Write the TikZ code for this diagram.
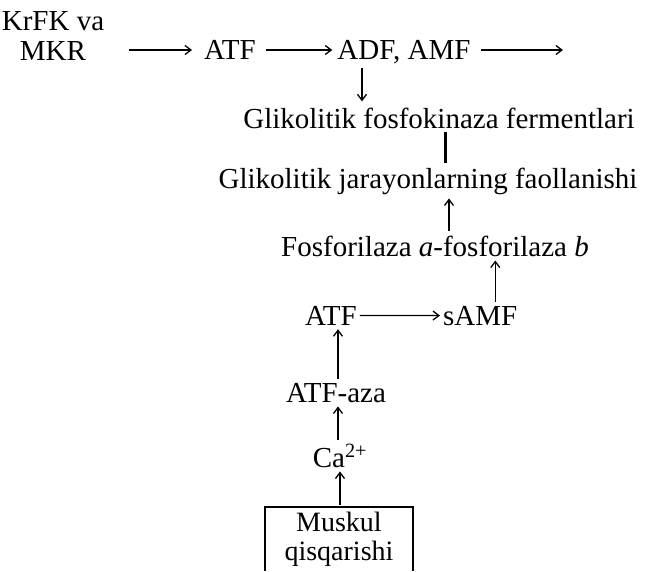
\documentclass[tikz,border=0pt]{standalone}
\usepackage{fontspec}
\setmainfont{Liberation Serif}
\usetikzlibrary{arrows.meta,positioning,calc}

\begin{document}
\begin{tikzpicture}[
  x=1pt, y=-1pt,
  every node/.style={font=\fontsize{29}{30}\selectfont, inner sep=0pt},
  lbl/.style={anchor=base},
  arr/.style={-{Straight Barb[length=6pt,width=9pt]}, line width=1.3pt},
  bar/.style={line width=3pt},
  boxline/.style={line width=2.5pt},
]
\useasboundingbox (0,0) rectangle (646,571);

% Top row
\node[align=center] (krfk) at (53,36) {KrFK va\\MKR};
\node[lbl] (atf) at (230,59) {ATF};
\node[lbl] (adf) at (404,59) {ADF, AMF};
\coordinate (out) at (563,50);

% Middle
\node[lbl] (glik) at (439,128) {Glikolitik fosfokinaza fermentlari};
\node[lbl] (faol) at (428,188) {Glikolitik jarayonlarning faollanishi};
\node[lbl] (fosfo) at (435,256) {Fosforilaza \textit{a}-fosforilaza \textit{b}};

% Lower column
\node[lbl] (atfb) at (331,325) {ATF};
\node[lbl, anchor=base west] (samf) at (443,325) {sAMF};
\node[lbl] (aza) at (336,402) {ATF-aza};
\node[lbl] (ca) at (340,467) {Ca\textsuperscript{2+}};
\node[anchor=north, minimum width=148pt, minimum height=64pt,
  align=center, font=\fontsize{28}{28.5}\selectfont] (muskul) at (339,507) {Muskul\\qisqarishi};
\draw[boxline] (muskul.south west) -- (muskul.north west)
  -- (muskul.north east) -- (muskul.south east);

% Arrows
\draw[arr, shorten <=25pt, shorten >=12pt] (krfk.east |- out) -- (atf.west |- out);
\draw[arr, shorten <=10pt, shorten >=5pt] (atf.east |- out) -- (adf.west |- out);
\draw[arr, shorten <=10pt] (adf.east |- out) -- (out);
\draw[arr, shorten <=4pt, shorten >=6pt] ([xshift=-42pt]adf.south) -- ([xshift=-42pt]adf.south |- glik.north);
\draw[bar, shorten <=4pt, shorten >=4pt] ([xshift=6pt]glik.south) -- ([xshift=6pt]glik.south |- faol.north);
\draw[arr, shorten <=4pt, shorten >=4pt] ([xshift=21pt]faol.south |- fosfo.north) -- ([xshift=21pt]faol.south);
\draw[arr, shorten <=4pt, shorten >=4pt] ([xshift=15pt]samf.north) -- ([xshift=15pt]samf.north |- fosfo.south);
\draw[arr, shorten <=3pt, shorten >=3pt] (atfb.east) -- (samf.west);
\draw[arr, shorten <=4pt, shorten >=4pt] ([xshift=7pt]atfb.south |- aza.north) -- ([xshift=7pt]atfb.south);
\draw[arr, shorten <=4pt, shorten >=4pt] ([xshift=2pt]aza.south |- ca.north) -- ([xshift=2pt]aza.south);
\draw[arr, shorten <=2pt, shorten >=4pt] (muskul.north -| ca.south) -- (ca.south);
\end{tikzpicture}
\end{document}
